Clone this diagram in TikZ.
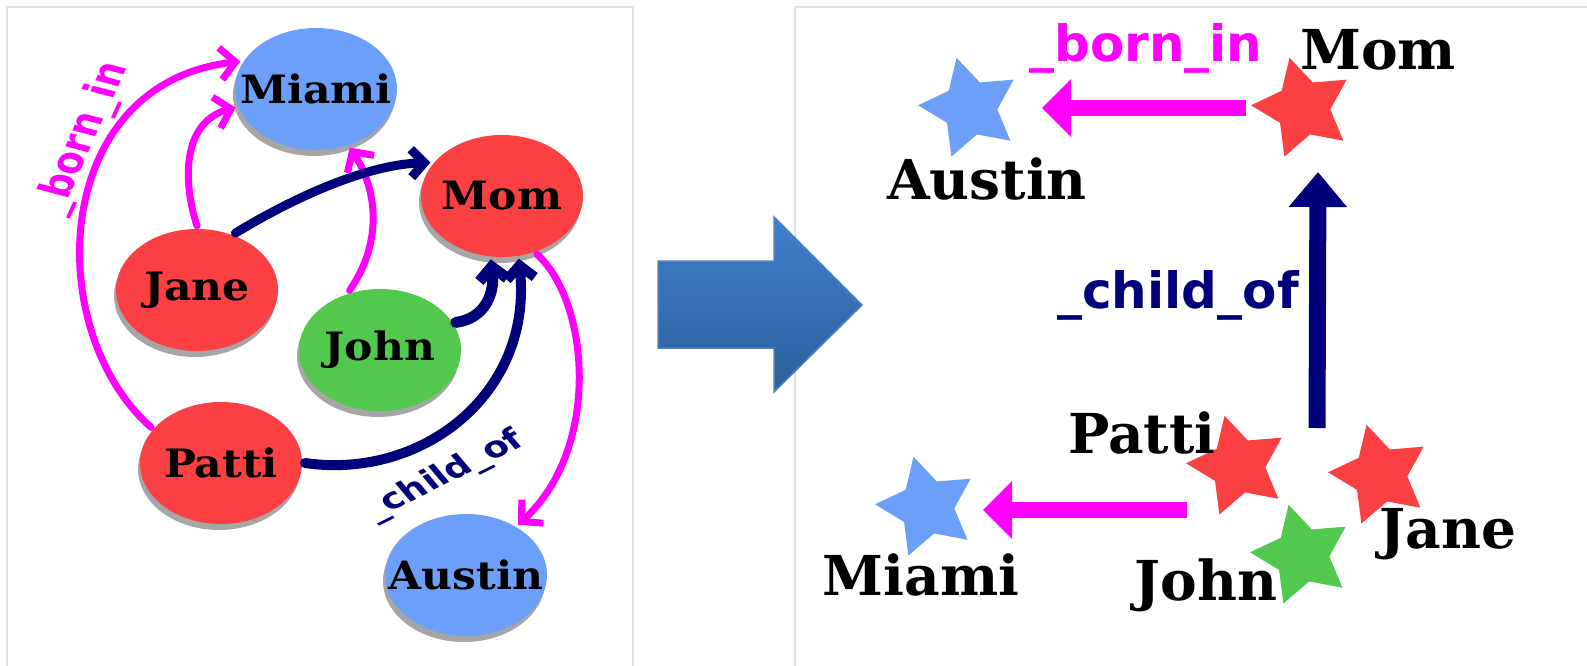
\documentclass[tikz,border=0pt]{standalone}
\usepackage{graphicx}
\usepackage{fontspec}
\newfontfamily\nodeserif{DejaVu Serif}
\newfontfamily\edgesans{DejaVu Sans}
\usetikzlibrary{shapes.geometric,arrows.meta,shadows}

\definecolor{cityblue}{RGB}{108,160,248}
\definecolor{personred}{RGB}{250,64,66}
\definecolor{persongreen}{RGB}{82,200,78}
\definecolor{relnavy}{RGB}{0,0,122}
\definecolor{relpink}{RGB}{255,0,255}
\definecolor{panelgray}{RGB}{226,226,226}
\definecolor{arrowtop}{RGB}{64,128,204}
\definecolor{arrowbot}{RGB}{44,94,156}
\definecolor{arrowedge}{RGB}{82,130,192}

% slightly widened lettering for the ellipse labels; zero width so the
% ellipse keeps its own size
\newcommand{\widename}[1]{\makebox[0pt][c]{\scalebox{1.09}[1]{#1}}}

\begin{document}
\begin{tikzpicture}[x=1pt,y=-1pt,
  entity/.style={ellipse, minimum width=162pt, minimum height=122pt,
    inner sep=0pt, outer sep=3pt,
    font=\nodeserif\bfseries\fontsize{39}{41}\selectfont,
    drop shadow={shadow xshift=-2pt, shadow yshift=-6pt, fill=black!35, opacity=1}},
  pinkrel/.style={draw=relpink, line width=7pt, line cap=round,
    -{Straight Barb[length=15pt,width=32pt]}},
  navyrel/.style={draw=relnavy, line width=9pt, line cap=round,
    -{Straight Barb[length=13pt,width=28pt]}},
  edgelabel/.style={inner sep=0pt, transform shape, font=\edgesans\bfseries},
  pointstar/.style={star, star points=5, star point ratio=1.9, minimum size=104pt,
    inner sep=0pt, shape border rotate=15, draw=none},
  starname/.style={inner sep=0pt, anchor=base,
    font=\nodeserif\bfseries\fontsize{55}{58}\selectfont},
  barlabel/.style={inner sep=0pt, anchor=base,
    font=\edgesans\bfseries\fontsize{50}{52}\selectfont},
  pinkbar/.style={draw=relpink, line width=16pt,
    -{Triangle[length=29pt,width=56pt]}},
  navybar/.style={draw=relnavy, line width=17pt,
    -{Triangle[length=35pt,width=56pt]}},
  panel/.style={draw=panelgray, line width=1.2pt}
]
\useasboundingbox (0,0) rectangle (1587,666);
\clip (0,0) rectangle (1587,666);

% two framed panels
\draw[panel] (7,7) rectangle (633,720);
\draw[panel] (795,7) rectangle (1640,720);

% ---- graph of entities ----
\node[entity, fill=cityblue]    (miami)  at (316,89)  {\widename{Miami}};
\node[entity, fill=personred]   (mom)    at (502,196) {\widename{Mom}};
\node[entity, fill=personred]   (jane)   at (197,290) {\widename{Jane}};
\node[entity, fill=persongreen] (john)   at (380,350) {\widename{John}};
\node[entity, fill=personred]   (patti)  at (221,463) {\widename{Patti}};
\node[entity, fill=cityblue]    (austin) at (466,575) {\widename{Austin}};

% _born_in relations
\draw[pinkrel] (patti.153) .. controls +(-110,-97) and +(-190,22) .. (miami.160);
\draw[pinkrel] (jane.north) .. controls +(-17,-54) and +(-49,13) .. (miami.193);
\draw[pinkrel] (john.117) .. controls +(34,-49) and +(27,41) .. (miami.-60);
\draw[pinkrel] (mom.-59) .. controls +(53,48) and +(83,-76) .. (austin.44);

% _child_of relations
\draw[navyrel] (jane.56) .. controls +(66,-40) and +(-60,2) .. (mom.155);
\draw[navyrel, line width=11pt] (john.20) .. controls +(30,-4) and +(4,33) .. (mom.-100);
\draw[navyrel, line width=10pt] (patti.east) .. controls +(117,17) and +(14,135) .. (mom.-75);

% edge labels, lettering widened like the ellipses
\begin{scope}[shift={(83,139)}, xscale=1.3]
  \node[edgelabel, text=relpink, rotate=71, font=\edgesans\bfseries\fontsize{34}{36}\selectfont]
    (bornleft) at (0,0) {\_born\_in};
\end{scope}
\begin{scope}[shift={(445,476)}, xscale=1.3]
  \node[edgelabel, text=relnavy, rotate=33, font=\edgesans\bfseries\fontsize{29}{31}\selectfont]
    (childleft) at (0,0) {\_child\_of};
\end{scope}

% ---- transformation arrow ----
\shade[top color=arrowtop, bottom color=arrowbot, draw=arrowedge, line width=1.5pt]
  (658,261) -- (774,261) -- (774,217) -- (862,305) -- (774,392) -- (774,348)
  -- (658,348) -- cycle;

% ---- star view ----
\node[pointstar, fill=cityblue]    (austinstar) at (970,108)  {};
\node[pointstar, fill=personred]   (momstar)    at (1303,108) {};
\node[pointstar, fill=personred]   (pattistar)  at (1238,466) {};
\node[pointstar, fill=personred]   (janestar)   at (1380,475) {};
\node[pointstar, fill=persongreen] (johnstar)   at (1302,555) {};
\node[pointstar, fill=cityblue]    (miamistar)  at (927,507)  {};

\node[starname] (austinname) at (987,199)  {Austin};
\node[starname] (momname)    at (1378,70)  {Mom};
\node[starname] (pattiname)  at (1142,453) {Patti};
\node[starname] (janename)   at (1448,548) {Jane};
\node[starname] (johnname)   at (1206,600) {John};
\node[starname] (miaminame)  at (921,595)  {Miami};

\draw[pinkbar] ([xshift=-57pt]momstar.center) -- ([xshift=72pt]austinstar.center);
\draw[pinkbar] ([xshift=-51pt,yshift=-44pt]pattistar.center)
  -- ([xshift=56pt,yshift=-3pt]miamistar.center);
\draw[navybar] ([xshift=79pt,yshift=38pt]pattistar.center)
  -- ([xshift=15pt,yshift=-64pt]momstar.center);

\node[barlabel, text=relpink] (bornright)  at (1146,62)  {\_born\_in};
\node[barlabel, text=relnavy] (childright) at (1178,308) {\_child\_of};
\end{tikzpicture}
\end{document}
